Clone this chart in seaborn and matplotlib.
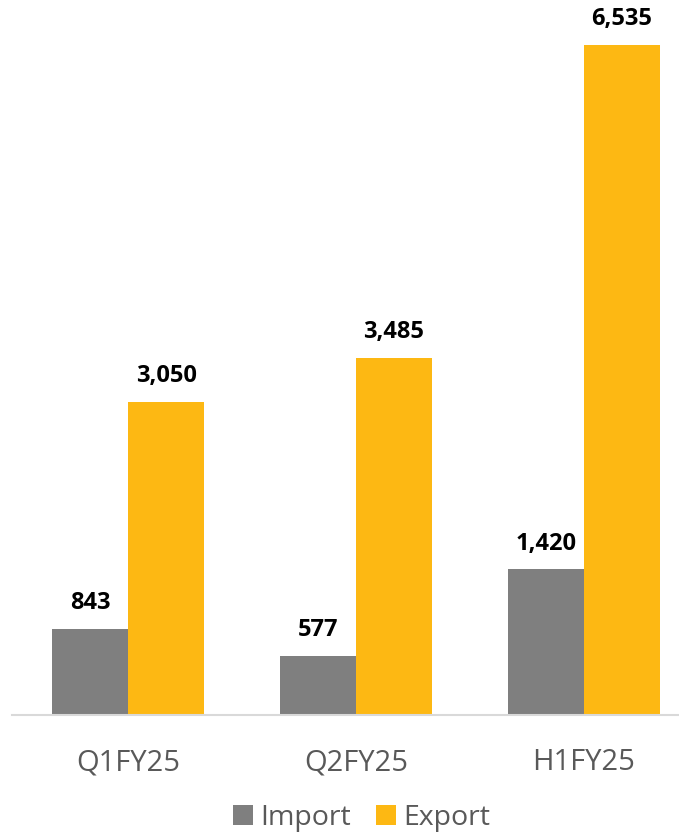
import pandas as pd
import seaborn as sns
import matplotlib.pyplot as plt

# dados do gráfico
periodos = ['Q1FY25', 'Q2FY25', 'H1FY25']
importacao = [843, 577, 1420]
exportacao = [3050, 3485, 6535]
series = ['Import', 'Export']
cores = ['#7F7F7F', '#FDB813']

df = pd.DataFrame({
    'periodo': periodos * 2,
    'valor': importacao + exportacao,
    'tipo': [series[0]] * 3 + [series[1]] * 3,
})

sns.set_style('white')
plt.rcParams['font.family'] = ['Open Sans', 'DejaVu Sans']

fig = plt.figure(figsize=(6.79, 8.36), dpi=100)
ax = fig.add_axes([12 / 679, 121 / 836, 667 / 679, 715 / 836])

sns.barplot(data=df, x='periodo', y='valor', hue='tipo', palette=cores,
            width=0.667, gap=0, saturation=1, linewidth=0, ax=ax)

# rótulos de valor em cima das barras
for c in ax.containers:
    ax.bar_label(c, labels=[f'{v:,.0f}' for v in c.datavalues],
                 padding=10, fontsize=17, fontweight='bold', color='black')

ax.set_xlim(-0.509, 2.417)
ax.set_ylim(0, 6974)
ax.set_xlabel('')
ax.set_ylabel('')
ax.set_yticks([])
for lado in ['top', 'right', 'left']:
    ax.spines[lado].set_visible(False)
ax.spines['bottom'].set_color('#D9D9D9')
ax.spines['bottom'].set_linewidth(1.5)
ax.tick_params(axis='x', length=0, pad=24, labelsize=21, labelcolor='#595959')

ax.legend(loc='upper center', bbox_to_anchor=(0.524, -0.109), ncol=2, frameon=False,
          fontsize=20.5, labelcolor='#595959', handlelength=0.7, handleheight=0.7,
          handletextpad=0.25, columnspacing=0.9, borderaxespad=0)

fig.savefig('out.png', dpi=100)
